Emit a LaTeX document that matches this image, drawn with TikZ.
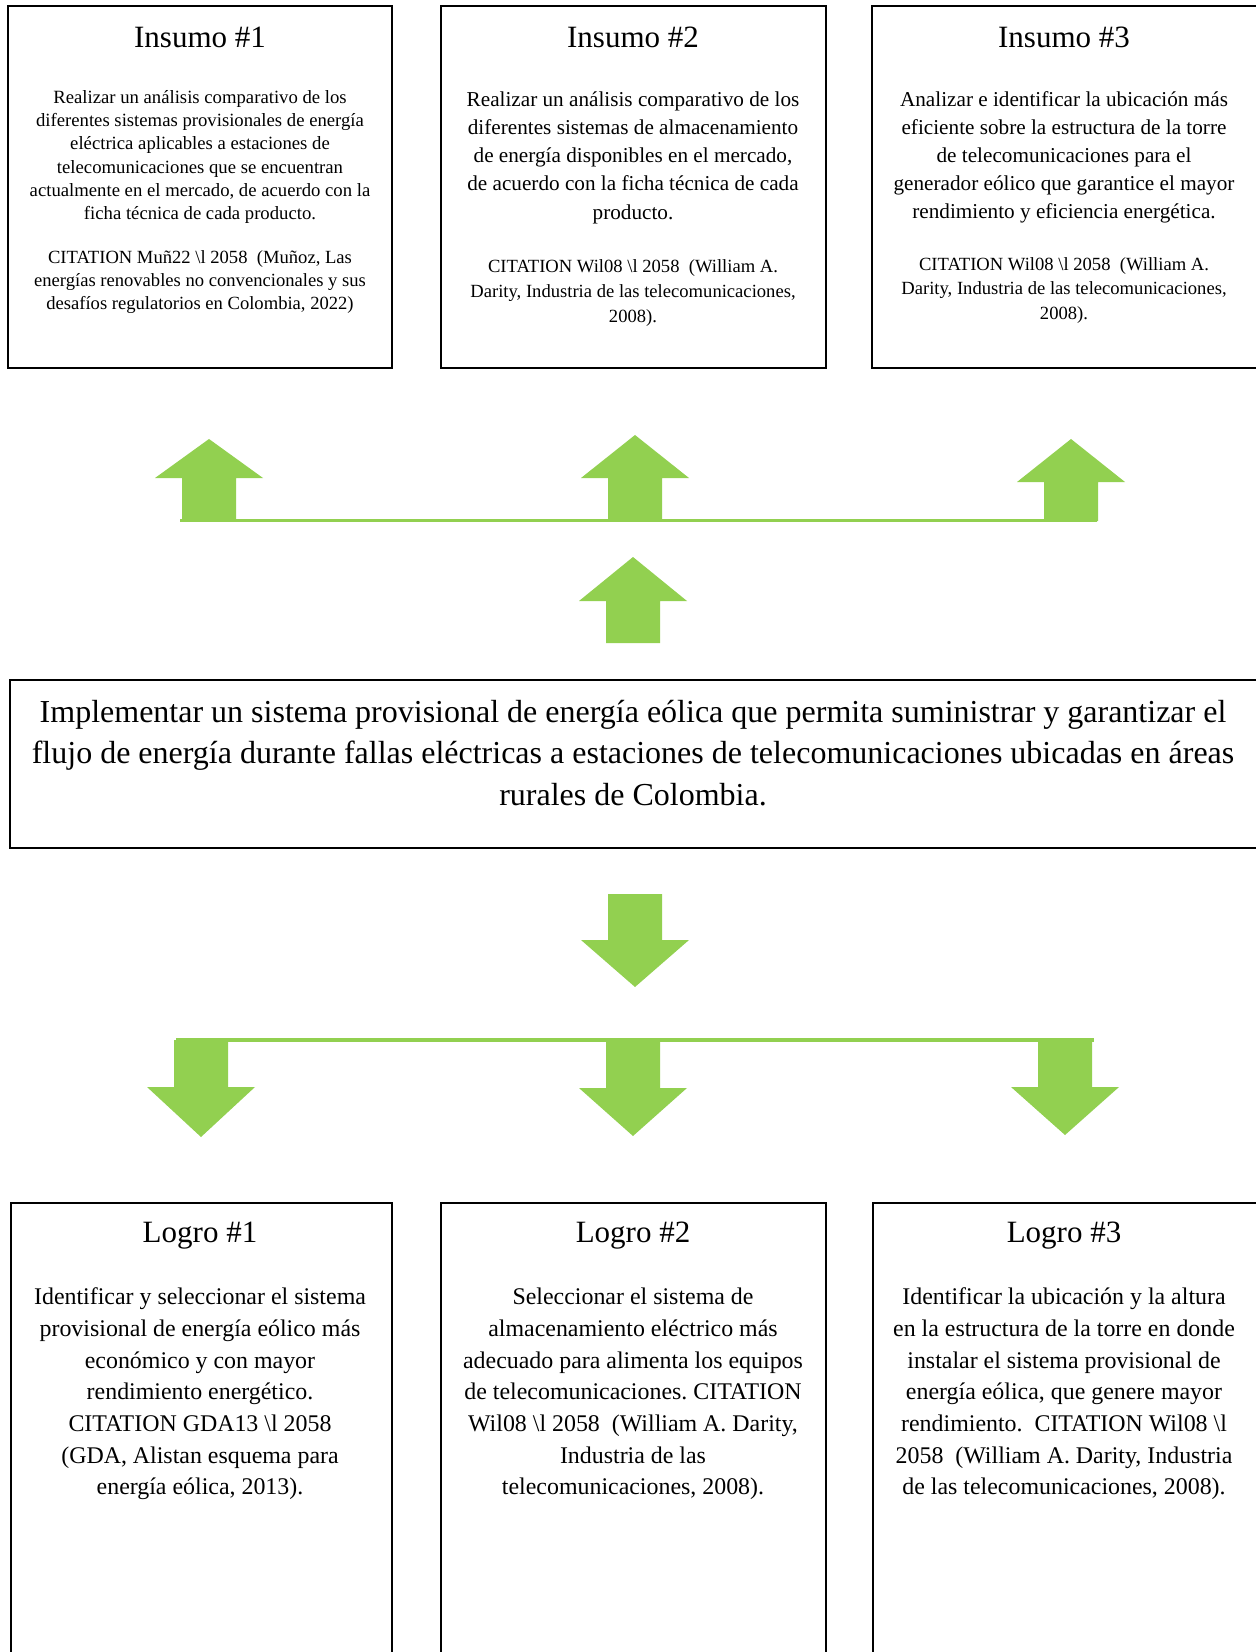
\documentclass[tikz,border=0pt]{standalone}
\usepackage{fontspec}
\setmainfont{Liberation Serif}
\frenchspacing
\definecolor{leafgreen}{HTML}{92D050}
\tikzset{
  boxline/.style={draw=black, line width=1pt},
  leaf/.style={fill=leafgreen},
  bus/.style={draw=leafgreen, line width=1.7pt},
  boxtitle/.style={inner sep=0pt, font=\fontsize{15.5}{18}\selectfont},
  boxtext/.style={inner sep=0pt, align=center}
}
\begin{document}
\begin{tikzpicture}[x=0.5pt,y=-0.5pt]
\useasboundingbox (0,0) rectangle (1255,1652);
\pgfmathsetmacro{\shaft}{27}
\pgfmathsetmacro{\head}{54}
\foreach \l/\r in {8/392, 441/826, 872/1258}
  \draw[boxline] (\l,6) rectangle (\r,368);
\draw[boxline] (10,680) rectangle (1258,848);
\foreach \l/\r in {11/392, 441/826, 873/1258}
  \draw[boxline] (\l,1203) rectangle (\r,1670);
\node[boxtitle] (ins1) at (200,37) {Insumo \#1};
\node[boxtext, font=\fontsize{9.35}{11.65}\selectfont] (ins1body) at (200,157) {Realizar un análisis comparativo de los\\
diferentes sistemas provisionales de energía\\
eléctrica aplicables a estaciones de\\
telecomunicaciones que se encuentran\\
actualmente en el mercado, de acuerdo con la\\
ficha técnica de cada producto.};
\node[boxtext, font=\fontsize{9.3}{11.5}\selectfont] (ins1cite) at (200,282) {CITATION Muñ22 \textbackslash l 2058~ (Muñoz, Las\\
energías renovables no convencionales y sus\\
desafíos regulatorios en Colombia, 2022)};
\node[boxtitle] (ins2) at (633,37) {Insumo \#2};
\node[boxtext, font=\fontsize{10.6}{14.15}\selectfont] (ins2body) at (633,157.5) {Realizar un análisis comparativo de los\\
diferentes sistemas de almacenamiento\\
de energía disponibles en el mercado,\\
de acuerdo con la ficha técnica de cada\\
producto.};
\node[boxtext, font=\fontsize{9.3}{12.4}\selectfont] (ins2cite) at (633,293) {CITATION Wil08 \textbackslash l 2058~ (William A.\\
Darity, Industria de las telecomunicaciones,\\
2008).};
\node[boxtitle] (ins3) at (1064,37) {Insumo \#3};
\node[boxtext, font=\fontsize{10.6}{14}\selectfont] (ins3body) at (1064,157) {Analizar e identificar la ubicación más\\
eficiente sobre la estructura de la torre\\
de telecomunicaciones para el\\
generador eólico que garantice el mayor\\
rendimiento y eficiencia energética.};
\node[boxtext, font=\fontsize{9.3}{12.25}\selectfont] (ins3cite) at (1064,290.5) {CITATION Wil08 \textbackslash l 2058~ (William A.\\
Darity, Industria de las telecomunicaciones,\\
2008).};
\node[boxtext, font=\fontsize{16}{20.75}\selectfont] (goal) at (633,753) {Implementar un sistema provisional de energía eólica que permita suministrar y garantizar el\\
flujo de energía durante fallas eléctricas a estaciones de telecomunicaciones ubicadas en áreas\\
rurales de Colombia.};
\node[boxtitle] (log1) at (200,1236) {Logro \#1};
\node[boxtext, font=\fontsize{11.95}{15.85}\selectfont] (log1body) at (200,1394) {Identificar y seleccionar el sistema\\
provisional de energía eólico más\\
económico y con mayor\\
rendimiento energético.\\
CITATION GDA13 \textbackslash l 2058\\
(GDA, Alistan esquema para\\
energía eólica, 2013).};
\node[boxtitle] (log2) at (633,1236) {Logro \#2};
\node[boxtext, font=\fontsize{11.95}{15.85}\selectfont] (log2body) at (633,1394) {Seleccionar el sistema de\\
almacenamiento eléctrico más\\
adecuado para alimenta los equipos\\
de telecomunicaciones. CITATION\\
Wil08 \textbackslash l 2058~ (William A. Darity,\\
Industria de las\\
telecomunicaciones, 2008).};
\node[boxtitle] (log3) at (1064,1236) {Logro \#3};
\node[boxtext, font=\fontsize{11.95}{15.85}\selectfont] (log3body) at (1064,1394) {Identificar la ubicación y la altura\\
en la estructura de la torre en donde\\
instalar el sistema provisional de\\
energía eólica, que genere mayor\\
rendimiento.~ CITATION Wil08 \textbackslash l\\
2058~ (William A. Darity, Industria\\
de las telecomunicaciones, 2008).};
\coordinate (upL) at (180,520.5);
\coordinate (upR) at (1097,520.5);
\coordinate (downL) at (176,1040);
\coordinate (downR) at (1094,1040);
\draw[bus] (upL) -- (upR);
\draw[bus] (downL) -- (downR);
\foreach \x/\tip/\base/\tail in {209/439/478/521, 635/435/478/521, 1071/439/482/521, 633/557/601/643, 635/987/940/894, 201/1137/1087/1040, 633/1136/1088/1040, 1065/1135/1087/1040}
  \fill[leaf] (\x,\tip) -- (\x+\head,\base) -- (\x+\shaft,\base) -- (\x+\shaft,\tail) -- (\x-\shaft,\tail) -- (\x-\shaft,\base) -- (\x-\head,\base) -- cycle;
\end{tikzpicture}
\end{document}
